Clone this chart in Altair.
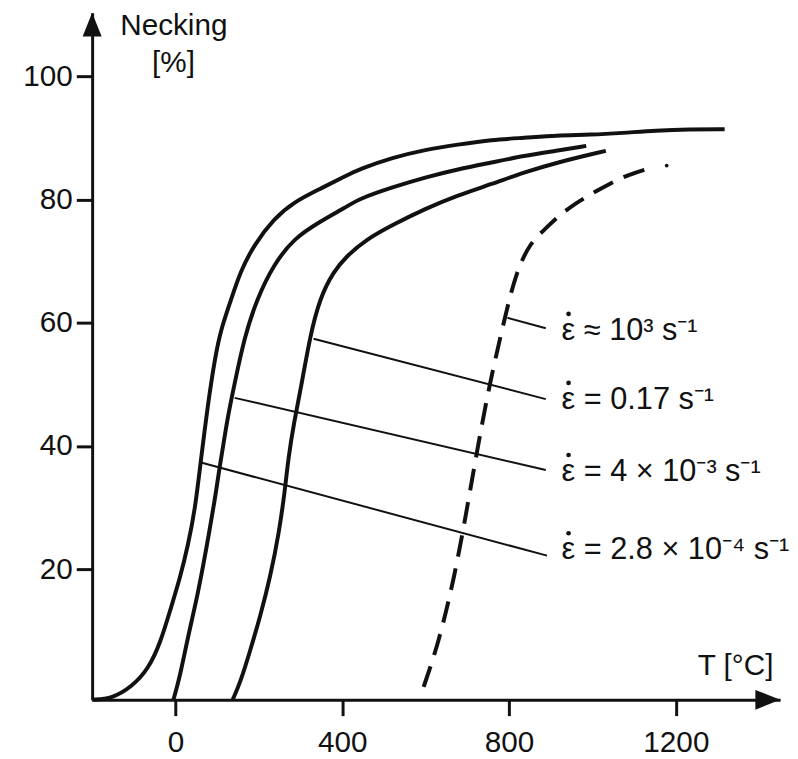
import altair as alt
import pandas as pd

# ---- data ----
rates = ["2.8e-4", "4e-3", "0.17", "1e3"]
rate_text = [
    "\u03b5 = 2.8 \u00d7 10\u207b\u2074 s\u207b\u00b9",
    "\u03b5 = 4 \u00d7 10\u207b\u00b3 s\u207b\u00b9",
    "\u03b5 = 0.17 s\u207b\u00b9",
    "\u03b5 \u2248 10\u00b3 s\u207b\u00b9",
]

t_a = [-200, -152, -105, -65, -36, -13, 11, 30, 47, 59, 78, 95, 108, 132, 156, 189,
       236, 284, 346, 410, 440, 521, 599, 677, 758, 836, 914, 995, 1073, 1152, 1232, 1317]
n_a = [-1.2, -1.0, 0.9, 3.8, 8.1, 13.3, 18.6, 23.9, 29.8, 36.7, 47.0, 54.4, 58.7, 63.5, 68.4, 72.7,
       76.9, 79.6, 81.7, 83.9, 84.9, 86.8, 88.1, 88.9, 89.7, 90.0, 90.4, 90.5, 90.8, 91.2, 91.4, 91.4]

t_b = [-5, 11, 30, 54, 73, 94, 106, 111, 125, 142, 165, 196, 236, 284, 346, 410,
       440, 521, 599, 677, 758, 836, 914, 985]
n_b = [-1.2, 2.7, 9.1, 16.1, 23.0, 31.1, 36.7, 38.6, 44.7, 50.2, 57.6, 64.0, 69.5, 73.7, 76.4, 78.8,
       80.1, 82.0, 83.6, 84.9, 86.0, 87.1, 87.9, 88.7]

t_c = [137, 156, 180, 203, 227, 248, 263, 270, 284, 303, 322, 346, 379, 410, 457, 521,
       599, 677, 758, 836, 914, 1032]
n_c = [-1.2, 1.7, 7.0, 12.3, 18.7, 25.8, 33.1, 37.8, 43.8, 50.2, 57.6, 64.0, 68.3, 70.8, 73.5, 75.9,
       78.5, 80.7, 82.5, 84.4, 86.0, 87.9]

t_d = [595, 630, 670, 699, 725, 753, 789, 817, 852, 884, 914, 962, 1002, 1045, 1085, 1138]
n_d = [0.9, 7.8, 19.0, 29.8, 39.9, 50.0, 60.6, 68.3, 73.1, 75.0, 77.1, 79.5, 81.1, 82.7, 84.0, 85.1]
t_d_end = [1178]
n_d_end = [85.5]

lead_t1 = [61, 142, 331, 796]
lead_n1 = [37.3, 47.8, 57.4, 60.8]
lead_t2 = [891, 888, 888, 888]
lead_n2 = [22.2, 36.1, 47.6, 59.1]
label_t = [926, 926, 926, 926]
label_n = [23.1, 35.8, 47.5, 58.7]

x_ticks = [0, 400, 800, 1200]
y_ticks = [20, 40, 60, 80, 100]
x_domain = [-200, 1450]
y_domain = [-1.2, 110.3]

FONT = "Liberation Sans"
INK = "#111111"
FS = 30
FS_LAB = 31

solid_rows = []
for name, ts, ns in zip(rates[:3], [t_a, t_b, t_c], [n_a, n_b, n_c]):
    for t, n in zip(ts, ns):
        solid_rows.append({"rate": name, "T": t, "N": n})
solid_df = pd.DataFrame(solid_rows)
dash_df = pd.DataFrame({"T": t_d, "N": n_d})
dot_df = pd.DataFrame({"T": t_d_end, "N": n_d_end})
lead_df = pd.DataFrame({"T": lead_t1, "N": lead_n1, "T2": lead_t2, "N2": lead_n2})
lab_df = pd.DataFrame({"T": label_t, "N": label_n, "txt": rate_text})
title_df = pd.DataFrame({
    "T": [-4, -5, 1434],
    "N": [108.2, 102.2, 4.3],
    "txt": ["Necking", "[%]", "T [\u00b0C]"],
    "align": ["center", "center", "right"],
})
arrow_up_df = pd.DataFrame({"T": [x_domain[0]], "N": [y_domain[1]]})
arrow_right_df = pd.DataFrame({"T": [x_domain[1]], "N": [y_domain[0]]})

xs = alt.Scale(domain=x_domain, nice=False, zero=False)
ys = alt.Scale(domain=y_domain, nice=False, zero=False)

x_axis = alt.Axis(values=x_ticks, format="d", title=None, grid=False, domainColor=INK, domainWidth=3,
                  tickColor=INK, tickWidth=3, tickSize=16, labelFont=FONT, labelFontSize=FS,
                  labelColor=INK, labelPadding=12, labelFlush=False)
y_axis = alt.Axis(values=y_ticks, format="d", title=None, grid=False, domainColor=INK, domainWidth=3,
                  tickColor=INK, tickWidth=3, tickSize=16, labelFont=FONT, labelFontSize=FS,
                  labelColor=INK, labelPadding=4, labelFlush=False)


def X(field="T"):
    return alt.X(f"{field}:Q", scale=xs, axis=x_axis)


def Y(field="N"):
    return alt.Y(f"{field}:Q", scale=ys, axis=y_axis)


solid = alt.Chart(solid_df).mark_line(stroke=INK, strokeWidth=4, interpolate="basis").encode(
    x=X(), y=Y(), detail="rate:N")

dashed = alt.Chart(dash_df).mark_line(stroke=INK, strokeWidth=4, strokeDash=[22, 12],
                                      interpolate="basis").encode(x=X(), y=Y())

dot = alt.Chart(dot_df).mark_point(filled=True, color=INK, opacity=1, size=14,
                                   shape="circle").encode(x=X(), y=Y())

leaders = alt.Chart(lead_df).mark_rule(stroke=INK, strokeWidth=2).encode(
    x=X(), y=Y(), x2="T2:Q", y2="N2:Q")

labels = alt.Chart(lab_df).mark_text(align="left", baseline="middle", font=FONT, fontSize=FS_LAB,
                                     color=INK).encode(x=X(), y=Y(), text="txt:N")

eps_dots = alt.Chart(lab_df).mark_point(filled=True, color=INK, opacity=1, size=22, shape="circle",
                                        xOffset=7, yOffset=-17).encode(x=X(), y=Y())

titles_c = alt.Chart(title_df[title_df["align"] == "center"]).mark_text(
    align="center", baseline="middle", font=FONT, fontSize=FS, color=INK).encode(
    x=X(), y=Y(), text="txt:N")
titles_r = alt.Chart(title_df[title_df["align"] == "right"]).mark_text(
    align="right", baseline="middle", font=FONT, fontSize=FS, color=INK).encode(
    x=X(), y=Y(), text="txt:N")

arrow_up = alt.Chart(arrow_up_df).mark_point(
    shape="M0,0L-0.8,2L0.8,2Z", filled=True, color=INK, opacity=1, size=576, strokeWidth=0).encode(
    x=X(), y=Y())
arrow_right = alt.Chart(arrow_right_df).mark_point(
    shape="M0,0L-2,-0.8L-2,0.8Z", filled=True, color=INK, opacity=1, size=625, strokeWidth=0).encode(
    x=X(), y=Y())

chart = alt.layer(
    solid, dashed, dot, leaders, labels, eps_dots, titles_c, titles_r, arrow_up, arrow_right
).properties(
    width=695, height=694,
    autosize=alt.AutoSizeParams(type="none"),
    padding={"left": 85, "top": 1, "right": 10, "bottom": 60},
    background="white",
).configure_view(stroke=None)

chart.save("out.html", embed_options={"renderer": "svg", "actions": False})
